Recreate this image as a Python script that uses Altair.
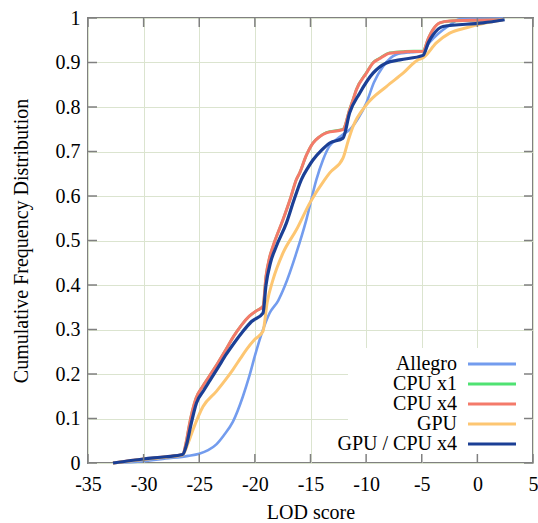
import altair as alt
import pandas as pd

# ---------------- data ----------------
series_names = ["Allegro", "CPU x1", "CPU x4", "GPU", "GPU / CPU x4"]
series_colors = ["#739cee", "#4fe272", "#f47a6a", "#fdc672", "#1b3f95"]
series_widths = [2.6, 2.6, 3.0, 3.0, 3.2]

allegro_x = [-32.75, -30, -28, -26, -25, -24.2, -23.46, -22.8, -21.97, -21.07, -20.5, -19.95,
             -19.4, -18.67, -17.9, -17.32, -16.27, -15.37, -14.47, -13.88, -13.3, -12.67, -12.0,
             -11.48, -10.7, -9.98, -9.3, -8.48, -7.28, -6.0, -4.89, -4.3, -3.5, -2.6, -1.6, 2.3]
allegro_y = [0.0, 0.004, 0.010, 0.016, 0.021, 0.029, 0.042, 0.062, 0.093, 0.15, 0.195, 0.245,
             0.29, 0.337, 0.365, 0.397, 0.472, 0.547, 0.637, 0.681, 0.712, 0.727, 0.74,
             0.749, 0.775, 0.809, 0.855, 0.891, 0.918, 0.923, 0.925, 0.945, 0.965, 0.982, 0.997, 0.999]

cpu4_x = [-32.75, -30, -28, -26.5, -26.15, -25.9, -25.3, -24.7, -24.1, -23.3, -22.6, -21.9,
          -21.2, -20.5, -19.8, -19.27, -19.0, -18.7, -18.37, -17.47, -16.8, -16.27, -15.97,
          -15.4, -14.78, -14.2, -13.57, -12.08, -11.48, -11.18, -10.87, -9.98, -9.38, -8.78,
          -7.88, -6.5, -4.89, -4.4, -3.99, -3.39, -2.5, 0.0, 2.3]
cpu4_y = [0.0, 0.009, 0.014, 0.019, 0.05, 0.085, 0.145, 0.172, 0.195, 0.226, 0.255, 0.285,
          0.31, 0.33, 0.343, 0.352, 0.42, 0.46, 0.487, 0.547, 0.595, 0.637, 0.652,
          0.69, 0.719, 0.733, 0.742, 0.749, 0.794, 0.816, 0.839, 0.876, 0.899, 0.909,
          0.921, 0.924, 0.925, 0.955, 0.974, 0.989, 0.993, 0.995, 0.996]

cpu1_x = [-32.75, -30, -28, -26.5, -26.15, -25.9, -25.3, -24.7, -24.1, -23.3, -22.6, -21.9,
          -21.2, -20.5, -19.8, -19.27, -19.0, -18.7, -18.37, -17.47, -16.8, -16.27, -15.97,
          -15.4, -14.78, -14.2, -13.57, -12.08, -11.48, -11.18, -10.87, -9.98, -9.38, -8.78,
          -7.88, -6.5, -4.89, -4.4, -3.99, -3.39, -2.5, 0.0, 2.3]
cpu1_y = [0.0, 0.009, 0.014, 0.019, 0.05, 0.085, 0.145, 0.172, 0.195, 0.226, 0.255, 0.285,
          0.31, 0.33, 0.343, 0.352, 0.42, 0.46, 0.487, 0.547, 0.595, 0.637, 0.652,
          0.69, 0.719, 0.733, 0.743, 0.750, 0.795, 0.817, 0.840, 0.877, 0.900, 0.910,
          0.922, 0.925, 0.926, 0.955, 0.974, 0.989, 0.993, 0.995, 0.996]

gpu_x = [-32.75, -30, -28, -26.5, -26.0, -25.56, -24.66, -23.46, -22.7, -21.97, -21.3, -20.76,
         -20.0, -19.27, -18.9, -18.37, -17.47, -16.27, -15.07, -13.72, -13.27, -12.08, -11.6,
         -11.18, -9.98, -8.18, -6.68, -5.34, -4.89, -3.69, -2.49, -0.98, 0.81, 2.3]
gpu_y = [0.0, 0.008, 0.013, 0.018, 0.045, 0.075, 0.127, 0.161, 0.185, 0.21, 0.235, 0.255,
         0.278, 0.296, 0.36, 0.412, 0.472, 0.524, 0.584, 0.637, 0.652, 0.685, 0.725,
         0.756, 0.805, 0.846, 0.876, 0.906, 0.910, 0.944, 0.966, 0.978, 0.989, 0.996]

gpucpu_x = [-32.75, -30, -28, -26.5, -26.1, -25.8, -25.25, -24.6, -24.05, -23.3, -22.55, -21.8,
            -21.1, -20.3, -19.27, -19.0, -18.6, -18.07, -17.17, -16.5, -15.82, -15.2, -14.78,
            -14.0, -13.27, -12.08, -11.48, -10.58, -9.38, -8.18, -6.98, -4.89, -4.4, -3.99,
            -3.09, 0.51, 2.45]
gpucpu_y = [0.0, 0.009, 0.014, 0.019, 0.045, 0.08, 0.135, 0.163, 0.185, 0.215, 0.245, 0.272,
            0.295, 0.318, 0.337, 0.40, 0.45, 0.487, 0.539, 0.59, 0.637, 0.665, 0.681,
            0.703, 0.719, 0.730, 0.787, 0.831, 0.876, 0.899, 0.906, 0.916, 0.945, 0.962,
            0.981, 0.989, 0.996]

x_ticks = [-35, -30, -25, -20, -15, -10, -5, 0, 5]
y_ticks = [0, 0.1, 0.2, 0.3, 0.4, 0.5, 0.6, 0.7, 0.8, 0.9, 1]

series_x = [allegro_x, cpu1_x, cpu4_x, gpu_x, gpucpu_x]
series_y = [allegro_y, cpu1_y, cpu4_y, gpu_y, gpucpu_y]

# ---------------- layout ----------------
W = 445
H = 445
FONT = "'Liberation Serif', 'Times New Roman', Times, 'DejaVu Serif', serif"
FS = 20
BORDER = "#808080"
GRID = "#dbe4cf"
TICK_LEN = 9

color_scale = alt.Scale(domain=series_names, range=series_colors)
xscale = alt.Scale(domain=[-35, 5], nice=False, zero=False)
yscale = alt.Scale(domain=[0, 1], nice=False, zero=False)

x_axis = alt.Axis(values=x_ticks, grid=True, gridColor=GRID, gridWidth=1, ticks=False,
                  domain=False, labelExpr="datum.value + ''", labelPadding=11,
                  labelFlush=False, labelOverlap=False,
                  labelFont=FONT, labelFontSize=FS, labelColor="black",
                  title="LOD score", titleFont=FONT, titleFontSize=FS, titleFontWeight="normal",
                  titleColor="black", titlePadding=8)
y_axis = alt.Axis(values=y_ticks, grid=True, gridColor=GRID, gridWidth=1, ticks=False,
                  domain=False, labelExpr="datum.value + ''", labelPadding=8,
                  labelFlush=False, labelOverlap=False,
                  labelFont=FONT, labelFontSize=FS, labelColor="black",
                  title="Cumulative Frequency Distribution", titleFont=FONT, titleFontSize=FS,
                  titleFontWeight="normal", titleColor="black", titlePadding=24)

layers = []

for name, xs, ys, sw in zip(series_names, series_x, series_y, series_widths):
    df = pd.DataFrame({"x": xs, "y": ys, "series": name})
    layers.append(
        alt.Chart(df).mark_line(interpolate="monotone", strokeWidth=sw, strokeCap="butt",
                                strokeJoin="round").encode(
            x=alt.X("x:Q", scale=xscale, axis=x_axis),
            y=alt.Y("y:Q", scale=yscale, axis=y_axis),
            color=alt.Color("series:N", scale=color_scale, legend=None),
            order=alt.Order("x:Q"),
        )
    )

# legend box (opaque, like gnuplot's key)
box_df = pd.DataFrame({"a": [0]})
layers.append(
    alt.Chart(box_df).mark_rect(color="white").encode(
        x=alt.value(260), x2=alt.value(W - 1), y=alt.value(330), y2=alt.value(H - 1)
    )
)

legend_df = pd.DataFrame({"series": series_names, "idx": list(range(len(series_names)))})
legend_base = alt.Chart(legend_df).transform_calculate(ly="346 + datum.idx * 20")
layers.append(
    legend_base.mark_text(align="right", baseline="middle", font=FONT, fontSize=FS,
                          color="black").encode(
        x=alt.value(369), y=alt.Y("ly:Q", scale=None, axis=None), text="series:N"
    )
)
layers.append(
    legend_base.mark_rule(strokeWidth=3).encode(
        x=alt.value(380), x2=alt.value(428), y=alt.Y("ly:Q", scale=None, axis=None),
        color=alt.Color("series:N", scale=color_scale, legend=None),
    )
)

# inward ticks on all four borders (gnuplot style, mirrored)
xt_df = pd.DataFrame({"x": x_ticks})
yt_df = pd.DataFrame({"y": y_ticks})
tick_style = dict(color=BORDER, strokeWidth=1.5)
layers.append(alt.Chart(xt_df).mark_rule(**tick_style).encode(
    x=alt.X("x:Q", scale=xscale, axis=x_axis), y=alt.value(H), y2=alt.value(H - TICK_LEN)))
layers.append(alt.Chart(xt_df).mark_rule(**tick_style).encode(
    x=alt.X("x:Q", scale=xscale, axis=x_axis), y=alt.value(0), y2=alt.value(TICK_LEN)))
layers.append(alt.Chart(yt_df).mark_rule(**tick_style).encode(
    y=alt.Y("y:Q", scale=yscale, axis=y_axis), x=alt.value(0), x2=alt.value(TICK_LEN)))
layers.append(alt.Chart(yt_df).mark_rule(**tick_style).encode(
    y=alt.Y("y:Q", scale=yscale, axis=y_axis), x=alt.value(W), x2=alt.value(W - TICK_LEN)))

chart = alt.layer(*layers).properties(
    width=W, height=H,
    autosize=alt.AutoSizeParams(type="none"),
    padding={"left": 88, "top": 18, "right": 5, "bottom": 60},
    background="white",
).configure_view(stroke=BORDER, strokeWidth=2)

chart.save("out.html", embed_options={"renderer": "svg", "actions": False})
